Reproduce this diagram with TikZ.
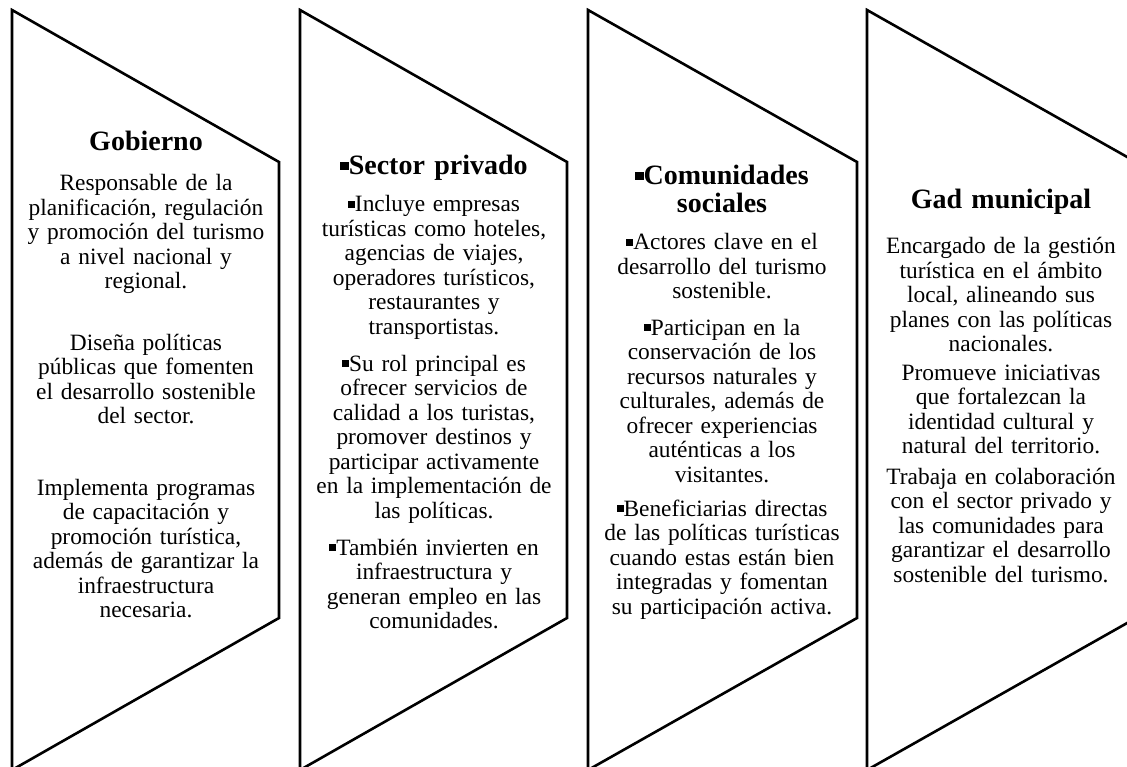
\documentclass[tikz,border=0pt]{standalone}
\usepackage{fontspec}
\setmainfont{Liberation Serif}
\usepackage{tikz}
\lineskiplimit=-100pt
\newcommand{\bul}{\rule[0.18em]{0.3em}{0.3em}}

\begin{document}
\begin{tikzpicture}[x=1pt, y=-1pt,
  panel/.style={line width=2.6pt},
  head/.style={font=\fontsize{28}{28}\selectfont\bfseries, align=center, text width=290pt, anchor=base, inner sep=0pt},
  txt/.style={font=\fontsize{23.4}{24.5}\selectfont, align=center, text width=290pt, anchor=base, inner sep=0pt}]
\useasboundingbox (0,0) rectangle (1127,767);
\clip (0,0) rectangle (1127,767);
\draw[panel] (12,10) -- (279,162) -- (279,618) -- (12,770) -- cycle;
\draw[panel] (300,10) -- (567,162) -- (567,618) -- (300,770) -- cycle;
\draw[panel] (588,10) -- (857,162) -- (857,618) -- (588,770) -- cycle;
\draw[panel] (867,10) -- (1136,162) -- (1136,618) -- (867,770) -- cycle;

\node[head] (gob) at (146,151) {Gobierno};
\node[txt] (gob1) at (146,191) {Responsable de la\\planificación, regulación\\y promoción del turismo\\a nivel nacional y\\regional.};
\node[txt] (gob2) at (146,350) {Diseña políticas\\públicas que fomenten\\el desarrollo sostenible\\del sector.};
\node[txt] (gob3) at (146,495) {Implementa programas\\de capacitación y\\promoción turística,\\además de garantizar la\\infraestructura\\necesaria.};

\node[head] (priv) at (434,175) {\bul Sector privado};
\node[txt] (priv1) at (434,212) {\bul Incluye empresas\\turísticas como hoteles,\\agencias de viajes,\\operadores turísticos,\\restaurantes y\\transportistas.};
\node[txt] (priv2) at (434,371) {\bul Su rol principal es\\ofrecer servicios de\\calidad a los turistas,\\promover destinos y\\participar activamente\\en la implementación de\\las políticas.};
\node[txt] (priv3) at (434,555) {\bul También invierten en\\infraestructura y\\generan empleo en las\\comunidades.};

\node[head] (com) at (722,185) {\bul Comunidades\\sociales};
\node[txt] (com1) at (722,250) {\bul Actores clave en el\\desarrollo del turismo\\sostenible.};
\node[txt] (com2) at (722,335) {\bul Participan en la\\conservación de los\\recursos naturales y\\culturales, además de\\ofrecer experiencias\\auténticas a los\\visitantes.};
\node[txt] (com3) at (722,516) {\bul Beneficiarias directas\\de las políticas turísticas\\cuando estas están bien\\integradas y fomentan\\su participación activa.};

\node[head] (gad) at (1001,209) {Gad municipal};
\node[txt] (gad1) at (1001,254) {Encargado de la gestión\\turística en el ámbito\\local, alineando sus\\planes con las políticas\\nacionales.};
\node[txt] (gad2) at (1001,380) {Promueve iniciativas\\que fortalezcan la\\identidad cultural y\\natural del territorio.};
\node[txt] (gad3) at (1001,484) {Trabaja en colaboración\\con el sector privado y\\las comunidades para\\garantizar el desarrollo\\sostenible del turismo.};
\end{tikzpicture}
\end{document}
